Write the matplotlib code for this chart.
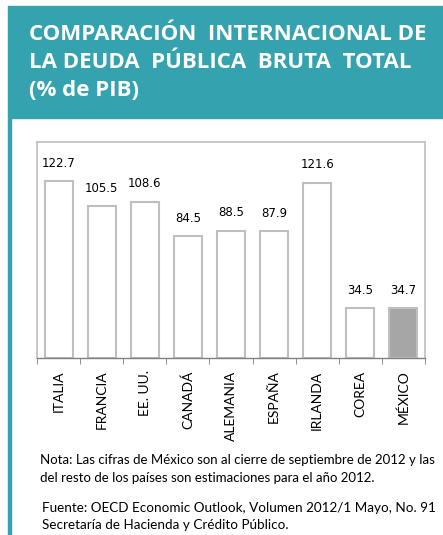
import numpy as np
import matplotlib.pyplot as plt
from matplotlib.patches import Rectangle

paises = ['ITALIA', 'FRANCIA', 'EE. UU.', 'CANADÁ', 'ALEMANIA', 'ESPAÑA', 'IRLANDA', 'COREA', 'MÉXICO']
deuda = [122.7, 105.5, 108.6, 84.5, 88.5, 87.9, 121.6, 34.5, 34.7]

W, H = 443, 535
fig = plt.figure(figsize=(W / 100, H / 100), dpi=100)
fig.patch.set_facecolor('white')

teal = '#35A2B0'
gray = '#BFBFBF'

def fx(px):
    return px / W

def fy(py):
    return 1 - py / H

# Header box and left rule
fig.patches.append(Rectangle((fx(8), fy(118)), 1 - fx(8), fy(6) - fy(118),
                             transform=fig.transFigure, color=teal, zorder=0))
fig.patches.append(Rectangle((fx(8), 0), fx(3), fy(118),
                             transform=fig.transFigure, color=teal, zorder=0))

titulo = ['COMPARACIÓN  INTERNACIONAL DE', 'LA DEUDA  PÚBLICA  BRUTA  TOTAL', '(% de PIB)']
for i, t in enumerate(titulo):
    fig.text(fx(29), fy(35 + i * 28), t, color='white', fontsize=16,
             fontweight='bold', family='Open Sans', va='center', ha='left')

ax = fig.add_axes([fx(37), fy(358), fx(425) - fx(37), fy(142) - fy(358)])
x = np.arange(len(paises))
colores = ['white'] * (len(paises) - 1) + ['#A6A6A6']
ax.bar(x, deuda, width=0.65, color=colores, edgecolor=gray, linewidth=1.5)
for xi, v in zip(x, deuda):
    ax.text(xi, v + 8, f'{v:.1f}', ha='center', va='bottom', fontsize=8.5,
            family='DejaVu Sans', color='black')

ax.set_xlim(-0.5, len(paises) - 0.5)
ax.set_ylim(0, 150)
ax.set_yticks([])
ax.set_xticks(x)
ax.set_xticklabels(paises, rotation=90, fontsize=10, family='Lato', va='top')
ax.tick_params(axis='x', which='major', length=0, pad=9)
ax.set_xticks(np.arange(-0.5, len(paises)), minor=True)
ax.tick_params(axis='x', which='minor', length=4, color='#808080', direction='out')
for s in ['top', 'right', 'left']:
    ax.spines[s].set_color(gray)
    ax.spines[s].set_linewidth(1.2)
ax.spines['bottom'].set_color('#808080')
ax.spines['bottom'].set_linewidth(1.0)

nota = ['Nota: Las cifras de México son al cierre de septiembre de 2012 y las',
        'del resto de los países son estimaciones para el año 2012.']
for i, t in enumerate(nota):
    fig.text(fx(40), fy(460 + i * 18), t, fontsize=9.5, family='Lato', va='center')

fuente = ['Fuente: OECD Economic Outlook, Volumen 2012/1 Mayo, No. 91',
          'Secretaría de Hacienda y Crédito Público.']
for i, t in enumerate(fuente):
    fig.text(fx(42), fy(508 + i * 17), t, fontsize=9.7, family='Lato', va='center')

fig.savefig('out.png', dpi=100)
